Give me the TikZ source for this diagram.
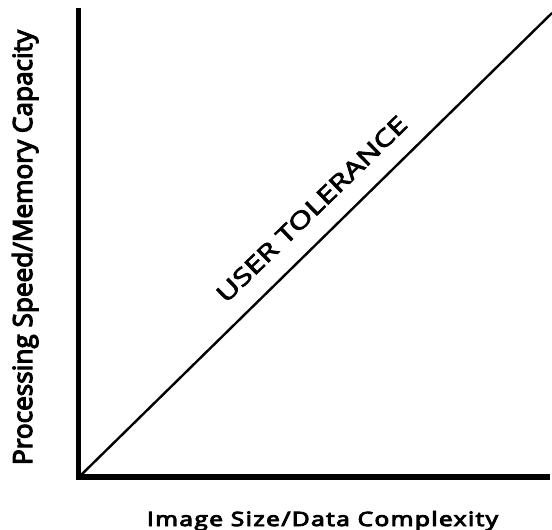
\documentclass[tikz,border=0pt]{standalone}
\usepackage{fontspec}
\newfontfamily\medfont{Open Sans}
\newfontfamily\xlabfont[LetterSpace=6]{Open Sans}
\newcommand\heavytext[1]{\special{pdf:code 2 Tr #1 w}}
\begin{document}
\begin{tikzpicture}[x=1pt,y=-1pt,
  axisline/.style={line width=#1,line cap=butt},
  curveline/.style={line width=2.4pt},
  lbl/.style={inner sep=0pt,anchor=base}]
\useasboundingbox (0,0) rectangle (552,530);
\coordinate (ytop) at (78.5,8);
\coordinate (ybot) at (78.5,480);
\coordinate (xleft) at (76,477);
\coordinate (xend) at (550,477);
\coordinate (orig) at (79,477);
\coordinate (dend) at (552,13);
\draw[axisline=5pt] (ytop) -- (ybot);
\draw[axisline=6pt] (xleft) -- (xend);
\draw[curveline] (orig) -- (dend);
\node[lbl,rotate=44.2] (tol) at (317.5,215) {\resizebox{255pt}{17pt}{\heavytext{0.3}\medfont USER TOLERANCE}};
\node[lbl,rotate=90] (ylab) at (32,247.5) {\resizebox{435pt}{20pt}{\heavytext{0.45}\medfont Processing Speed/Memory Capacity}};
\node[lbl] (xlab) at (322.5,526) {\resizebox{351pt}{15pt}{\heavytext{0.45}\xlabfont Image Size/Data Complexity}};
\end{tikzpicture}
\end{document}
